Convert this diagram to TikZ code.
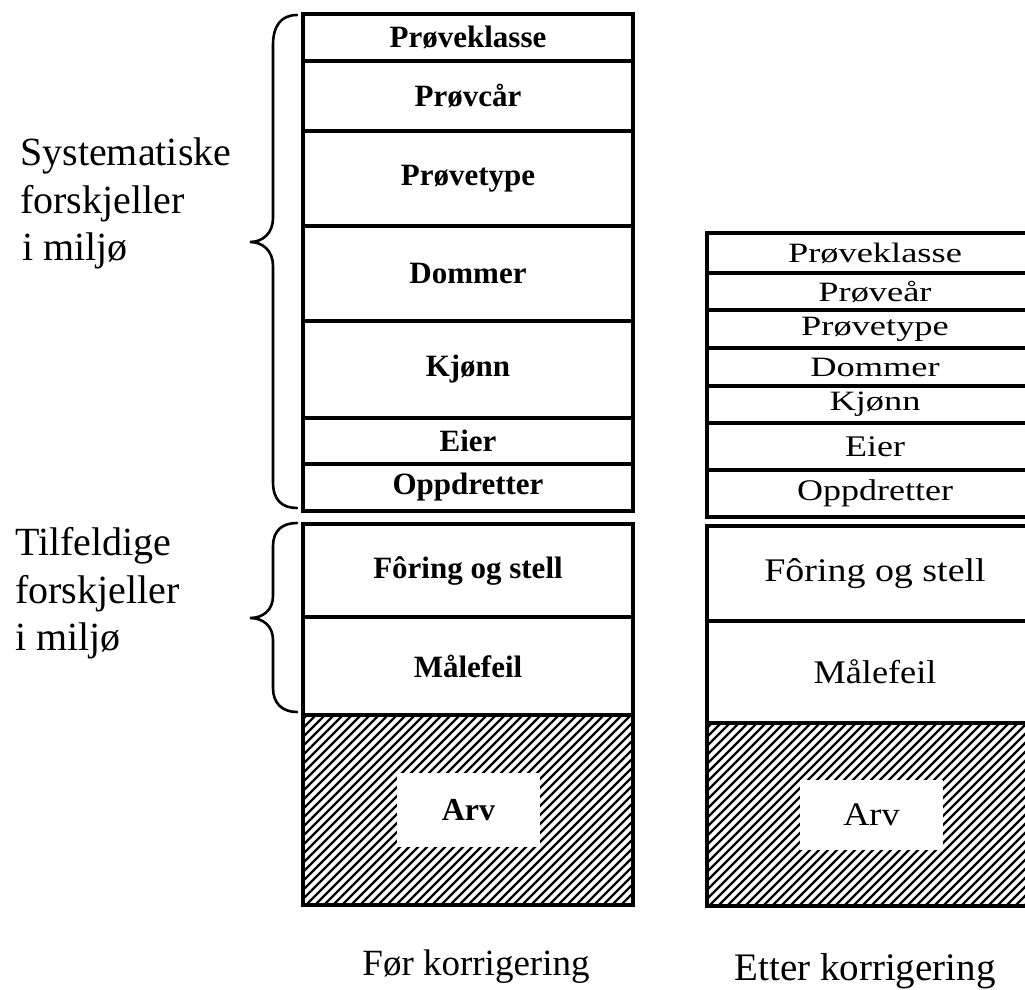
\documentclass[tikz,border=0pt]{standalone}
\usepackage{fontspec}
\usepackage{graphicx}
\setmainfont{Liberation Serif}
\newcommand\rlab[3]{\fontsize{#1}{#1}\selectfont\scalebox{#2}[1]{#3}}
\tikzset{
  lcell/.style={draw, line width=3.2pt, minimum width=330pt, inner sep=0pt, outer sep=0pt,
                font=\fontsize{31}{36}\selectfont\bfseries},
  rcell/.style={draw, line width=3.2pt, minimum width=336pt, inner sep=0pt, outer sep=0pt},
  hatchline/.style={line width=2.3pt},
  hole/.style={fill=white, inner sep=0pt, outer sep=0pt, minimum width=143pt},
  brace/.style={line width=2.6pt, line cap=round},
  side/.style={anchor=base west, inner sep=0pt, font=\fontsize{40}{47}\selectfont},
  caption/.style={anchor=base, inner sep=0pt},
}
\begin{document}
\begin{tikzpicture}[x=1pt,y=-1pt]
\fill[white] (0,0) rectangle (1025,990);
\useasboundingbox (0,0) rectangle (1025,990);

% left column
\node[lcell, minimum height=47pt] (l1) at (468,37.5) {Prøveklasse};
\node[lcell, minimum height=70pt] (l2) at (468,96) {Prøvcår};
\node[lcell, minimum height=95pt] (l3) at (468,178.5) {Prøvetype};
\node[lcell, minimum height=95pt] (l4) at (468,273.5) {Dommer};
\node[lcell, minimum height=97pt] (l5) at (468,369.5) {Kjønn};
\node[lcell, minimum height=46pt] (l6) at (468,441) {Eier};
\node[lcell, minimum height=47pt] (l7) at (468,487.5) {Oppdretter};
\node[lcell, minimum height=93pt] (l8) at (468,570.5) {Fôring og stell};
\node[lcell, minimum height=98pt] (l9) at (468,666) {Målefeil};
\node[lcell, minimum height=190pt] (l10) at (468,810) {};
\begin{scope}
  \clip (l10.south west) rectangle (l10.north east);
  \foreach \k in {-200,-191,...,340} {
    \draw[hatchline] (303+\k,910) -- (303+\k+200,710);
  }
\end{scope}
\node[hole, minimum height=74pt, font=\fontsize{32}{36}\selectfont\bfseries] (arvL) at (468.5,810) {Arv};

% right column
\node[rcell, minimum height=40pt] (r1) at (875,253) {\rlab{28}{1.3}{Prøveklasse}};
\node[rcell, minimum height=37pt] (r2) at (875,291.5) {\rlab{28}{1.3}{Prøveår}};
\node[rcell, minimum height=38pt] (r3) at (875,329) {\rlab{28}{1.3}{Prøvetype}};
\node[rcell, minimum height=38pt] (r4) at (875,367) {\rlab{28}{1.3}{Dommer}};
\node[rcell, minimum height=37pt] (r5) at (875,404.5) {\rlab{28}{1.3}{Kjønn}};
\node[rcell, minimum height=47pt] (r6) at (875,446.5) {\rlab{30}{1.2}{Eier}};
\node[rcell, minimum height=47pt] (r7) at (875,493.5) {\rlab{30}{1.2}{Oppdretter}};
\node[rcell, minimum height=95pt] (r8) at (875,573.5) {\rlab{33}{1.15}{Fôring og stell}};
\node[rcell, minimum height=102pt] (r9) at (875,672) {\rlab{33}{1.1}{Målefeil}};
\node[rcell, minimum height=183pt] (r10) at (875,814.5) {};
\begin{scope}
  \clip (r10.south west) rectangle (r10.north east);
  \foreach \k in {-200,-191,...,360} {
    \draw[hatchline] (707+\k,910) -- (707+\k+200,710);
  }
\end{scope}
\node[hole, minimum height=70pt] (arvR) at (871.5,815) {\rlab{33}{1.1}{Arv}};

% braces
\draw[brace] (297,15) .. controls (281,15) and (273,26) .. (273,45) -- (273,218)
  .. controls (273,233) and (263,242) .. (250,242)
  .. controls (263,242) and (273,251) .. (273,266) -- (273,482)
  .. controls (273,500) and (282,508) .. (297,508);
\draw[brace] (297,523) .. controls (282,523) and (273,531) .. (273,546) -- (273,596)
  .. controls (273,610) and (263,618) .. (250,618)
  .. controls (263,618) and (273,626) .. (273,640) -- (273,688)
  .. controls (273,703) and (282,712) .. (297,712);

% side labels
\node[side] (sys1) at (20,165) {Systematiske};
\node[side] (sys2) at (20,213) {forskjeller};
\node[side] (sys3) at (22,260) {i miljø};
\node[side] (til1) at (15,555) {Tilfeldige};
\node[side] (til2) at (15,603) {forskjeller};
\node[side] (til3) at (15,650) {i miljø};

% captions
\node[caption, font=\fontsize{37}{42}\selectfont] (cap1) at (476,975) {Før korrigering};
\node[caption, font=\fontsize{39}{44}\selectfont] (cap2) at (865,980) {Etter korrigering};
\end{tikzpicture}
\end{document}
